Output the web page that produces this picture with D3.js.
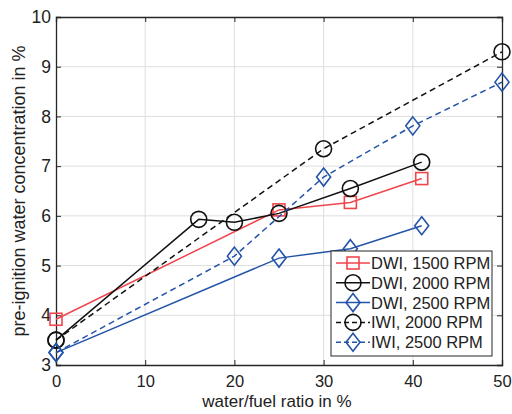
<!DOCTYPE html>
<html><head><meta charset="utf-8">
<script src="https://cdn.jsdelivr.net/npm/d3@7"></script>
<style>body{margin:0;background:#fff}svg{display:block;font-family:"Liberation Sans",Arial,sans-serif}</style>
</head><body><svg id="c" width="512" height="414"></svg>
<script>
const xTicks = [0, 10, 20, 30, 40, 50];
const yTicks = [3, 4, 5, 6, 7, 8, 9, 10];
const dwi1500 = [[0, 3.92], [25, 6.12], [33, 6.27], [41, 6.75]];
const dwi2000 = [[0, 3.5], [16, 5.93], [20, 5.87], [25, 6.05], [33, 6.55], [41, 7.08]];
const dwi2500 = [[0, 3.25], [25, 5.15], [33, 5.34], [41, 5.8]];
const iwi2000 = [[0, 3.5], [30, 7.35], [50, 9.3]];
const iwi2500 = [[0, 3.25], [20, 5.19], [30, 6.78], [40, 7.81], [50, 8.69]];
const seriesNames = ["DWI, 1500 RPM", "DWI, 2000 RPM", "DWI, 2500 RPM", "IWI, 2000 RPM", "IWI, 2500 RPM"];

const RED = "#f0454b", BLACK = "#111", BLUE = "#2454a8";
const series = [
  {name: seriesNames[0], data: dwi1500, color: RED, dash: null, marker: "square"},
  {name: seriesNames[1], data: dwi2000, color: BLACK, dash: null, marker: "circle"},
  {name: seriesNames[2], data: dwi2500, color: BLUE, dash: null, marker: "diamond"},
  {name: seriesNames[3], data: iwi2000, color: BLACK, dash: "6,4", marker: "circle"},
  {name: seriesNames[4], data: iwi2500, color: BLUE, dash: "6,4", marker: "diamond"}
];

const L = 56, R = 502, T = 17, B = 365;
const x = d3.scaleLinear().domain([0, 50]).range([L, R]);
const y = d3.scaleLinear().domain([3, 10]).range([B, T]);
const svg = d3.select("#c");
const FF = '"Liberation Sans",Arial,sans-serif';

// grid
svg.append("g").selectAll("line").data(xTicks.slice(1, -1)).join("line")
  .attr("x1", d => x(d)).attr("x2", d => x(d)).attr("y1", T).attr("y2", B)
  .attr("stroke", "#dedede").attr("stroke-width", 1);
svg.append("g").selectAll("line").data(yTicks.slice(1, -1)).join("line")
  .attr("y1", d => y(d)).attr("y2", d => y(d)).attr("x1", L).attr("x2", R)
  .attr("stroke", "#dedede").attr("stroke-width", 1);

// axes
const ax = svg.append("g").attr("transform", `translate(0,${B})`)
  .call(d3.axisBottom(x).tickValues(xTicks).tickSize(-5).tickPadding(10).tickFormat(d3.format("d")));
const ay = svg.append("g").attr("transform", `translate(${L},0)`)
  .call(d3.axisLeft(y).tickValues(yTicks).tickSize(-5).tickPadding(5).tickFormat(d3.format("d")));
const axT = svg.append("g").attr("transform", `translate(0,${T})`)
  .call(d3.axisTop(x).tickValues(xTicks).tickSize(-5).tickFormat(""));
const ayR = svg.append("g").attr("transform", `translate(${R},0)`)
  .call(d3.axisRight(y).tickValues(yTicks).tickSize(-5).tickFormat(""));
[ax, ay, axT, ayR].forEach(g => {
  g.select(".domain").attr("stroke", "#262626").attr("stroke-width", 1.3);
  g.selectAll(".tick line").attr("stroke", "#262626");
  g.selectAll("text").attr("font-size", 16.5).attr("fill", "#222").attr("font-family", FF);
});
ay.selectAll("text").attr("font-size", 17.5);

// labels
svg.append("text").attr("x", 277).attr("y", 407).attr("text-anchor", "middle")
  .attr("font-size", 17).attr("fill", "#222").attr("font-family", FF).text("water/fuel ratio in %");
svg.append("text").attr("transform", `translate(25,${(T + B) / 2}) rotate(-90)`)
  .attr("text-anchor", "middle").attr("font-size", 18).attr("fill", "#222").attr("font-family", FF)
  .text("pre-ignition water concentration in %");

function drawMarker(g, type, cx, cy, color) {
  if (type === "square") {
    g.append("rect").attr("x", cx - 6).attr("y", cy - 6).attr("width", 12).attr("height", 12)
      .attr("fill", "none").attr("stroke", color).attr("stroke-width", 1.6);
  } else if (type === "circle") {
    g.append("circle").attr("cx", cx).attr("cy", cy).attr("r", 8)
      .attr("fill", "none").attr("stroke", color).attr("stroke-width", 1.6);
  } else {
    g.append("path").attr("d", `M${cx},${cy - 9}L${cx + 7},${cy}L${cx},${cy + 9}L${cx - 7},${cy}Z`)
      .attr("fill", "none").attr("stroke", color).attr("stroke-width", 1.6);
  }
}

const line = d3.line().x(d => x(d[0])).y(d => y(d[1]));
series.forEach(s => {
  const g = svg.append("g");
  g.append("path").attr("d", line(s.data)).attr("fill", "none").attr("stroke", s.color)
    .attr("stroke-width", 1.5).attr("stroke-dasharray", s.dash);
  s.data.forEach(d => drawMarker(g, s.marker, x(d[0]), y(d[1]), s.color));
});

// legend
const lg = svg.append("g");
lg.append("rect").attr("x", 331).attr("y", 251).attr("width", 161).attr("height", 105)
  .attr("fill", "#fff").attr("stroke", "#262626").attr("stroke-width", 1);
series.forEach((s, i) => {
  const cy = 263 + i * 19.8;
  lg.append("line").attr("x1", 336).attr("x2", 370).attr("y1", cy).attr("y2", cy)
    .attr("stroke", s.color).attr("stroke-width", 1.5).attr("stroke-dasharray", s.dash ? "5,3" : null);
  drawMarker(lg, s.marker, 353, cy, s.color);
  lg.append("text").attr("x", 371).attr("y", cy + 6).attr("font-size", 16.5).attr("fill", "#222")
    .attr("font-family", FF).text(s.name);
});
</script></body></html>
